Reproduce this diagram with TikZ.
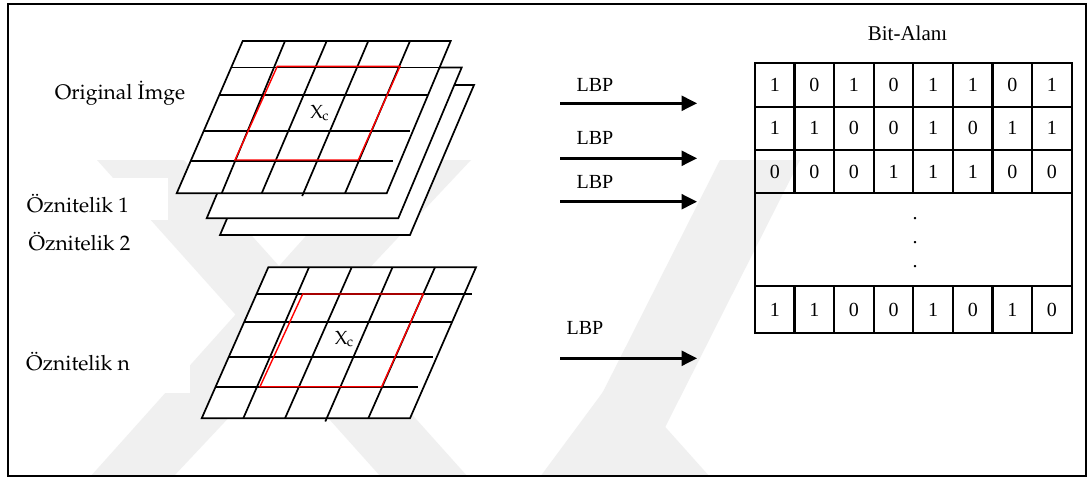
\documentclass[tikz,border=0pt]{standalone}
\usepackage[T1]{fontenc}
\usepackage{fontspec}
\setmainfont{Liberation Serif}
\usetikzlibrary{arrows.meta}
\newcommand\palfont{\fontencoding{T1}\fontfamily{ppl}\selectfont}

\tikzset{
  sheet/.style={draw=black, fill=white, line width=1.7pt, line join=miter},
  gline/.style={draw=black, line width=1.7pt},
  rline/.style={draw=red, line width=1.4pt},
  lbl/.style={inner sep=1pt, font=\palfont\fontsize{21}{24}\selectfont},
  lbp/.style={inner sep=1pt, font=\fontsize{20}{22}\selectfont},
  flow/.style={line width=2.5pt, -{Triangle[length=15.5pt,width=15pt]}},
  cell/.style={draw=black, line width=2.2pt, minimum width=39.6pt, inner sep=0pt,
               font=\fontsize{20}{22}\selectfont},
  xcl/.style={inner sep=0pt, font=\palfont\fontsize{19}{19}\selectfont},
  wmark/.style={fill=black!6, draw=none},
}

\begin{document}
\begin{tikzpicture}[x=1pt,y=-1pt]
\useasboundingbox (0,0) rectangle (1087,477);
\fill[white] (0,0) rectangle (1087,477);

% faint background emblem
\begin{scope}
  \clip (9,160) rectangle (1085,475);
  \fill[wmark] (90,477) -- (173,477) -- (471,160) -- (374,160) -- cycle;
  \fill[wmark] (97,160) -- (184,160) -- (468,477) -- (381,477) -- cycle;
  \fill[wmark] (560,477) -- (640,477) -- (800,160) -- (720,160) -- cycle;
  \fill[wmark] (540,477) -- (617,373) -- (710,477) -- (640,477) -- (617,445) -- (600,477) -- cycle;
\end{scope}

% outer frame
\draw[line width=2pt] (8.3,3.7) rectangle (1085.8,475.8);

% ---------- stacked feature sheets ----------
\draw[sheet] (284,85) -- (474,85) -- (410,235) -- (220,235) -- cycle;
\draw[sheet] (270,67.5) -- (461.7,67.5) -- (398.3,218.3) -- (206.7,218.3) -- cycle;

% top grid (original image)
\draw[sheet] (242.7,41) -- (450.7,41) -- (386.7,193.3) -- (176.7,193.3) -- cycle;
\foreach \t/\b in {285/221.7, 326.7/261.7, 410/345}
  \draw[gline] (\t,41) -- (\b,193.3);
\draw[gline] (368.3,41) -- (302.2,196);
\foreach \y/\l/\r in {67.5/231.2/439.5, 95/219.3/428, 130.7/203.8/410, 161/190.7/393.3}
  \draw[gline] (\l,\y) -- (\r,\y);
\draw[rline] (277.3,66.3) -- (400,66.3) -- (358.3,160) -- (235,160) -- cycle;
\node[xcl] (xc1) at (319.5,113.3) {X\kern-0.5pt\raisebox{-1.5pt}{\fontsize{14}{14}\selectfont c}};

% bottom grid (feature n)
\draw[sheet] (268.3,267.3) -- (476,267.3) -- (410,418.3) -- (201.7,418.3) -- cycle;
\foreach \t/\b in {309/243.3, 351.7/285, 435/368.3}
  \draw[gline] (\t,267.3) -- (\b,418.3);
\draw[gline] (392.5,267.3) -- (325.3,421.5);
\foreach \y/\l/\r in {294/256.6/471.7, 321.7/244.3/451.7, 357.3/228.6/433.3, 387.3/215.4/418.3}
  \draw[gline] (\l,\y) -- (\r,\y);
\draw[rline] (302.7,294) -- (423.3,294) -- (381.7,386.7) -- (260,386.7) -- cycle;
\node[xcl] (xc2) at (344,339.3) {X\kern-0.5pt\raisebox{-1.5pt}{\fontsize{14}{14}\selectfont c}};

% ---------- left labels ----------
\fill[white] (27,178) rectangle (168,220);
\fill[white] (25,340) rectangle (190,393);
\node[lbl] (orig) at (120,93.3) {Original \.Imge};
\node[lbl, anchor=west] (f1) at (25.7,203.3) {Öznitelik 1};
\node[lbl, anchor=west] (f2) at (27.3,241.7) {Öznitelik 2};
\node[lbl, anchor=west] (fn) at (25,361.7) {Öznitelik n};

% ---------- LBP arrows ----------
\foreach \i/\y/\ly/\lx in {1/103.3/85/595, 2/158.3/138.3/595, 3/201.7/181.7/595, 4/358.3/328.3/585}{
  \coordinate (s\i) at (560,\y);
  \coordinate (e\i) at (697,\y);
  \draw[flow] (s\i) -- (e\i);
  \node[lbp, fill=white] (lbp\i) at (\lx,\ly) {LBP};
}

% ---------- bit field ----------
\node[font=\fontsize{21}{24}\selectfont, inner sep=1pt] (title) at (907.5,33.3) {Bit-Alanı};

\foreach \r/\yc/\h/\bits in {1/85/43.3/{1,0,1,0,1,1,0,1},
                             2/128.3/43.3/{1,1,0,0,1,0,1,1},
                             3/171.6/43.3/{0,0,0,1,1,1,0,0},
                             4/309.7/47.3/{1,1,0,0,1,0,1,0}}{
  \foreach \b [count=\c from 0] in \bits
    \node[cell, minimum height=\h pt] (c\r-\c) at (755+39.59*\c+19.8,\yc) {\b};
}
\node[draw=black, line width=2.2pt, minimum width=316.7pt, minimum height=92.7pt, inner sep=0pt]
  (gap) at (913.35,239.65) {};
\foreach \k/\y in {1/219, 2/243, 3/267}
  \node[inner sep=0pt, font=\fontsize{20}{22}\selectfont] (dot\k) at (915,\y) {.};
\end{tikzpicture}
\end{document}
